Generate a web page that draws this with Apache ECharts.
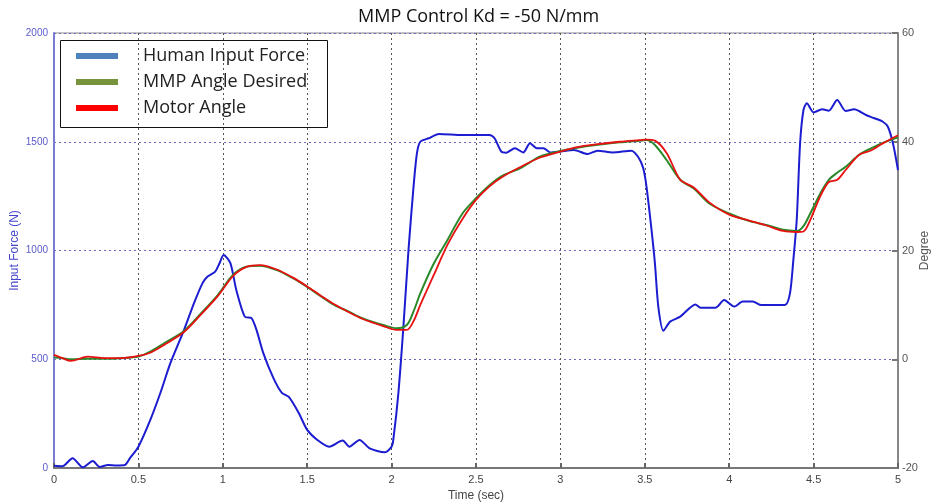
<!DOCTYPE html>
<html>
<head>
<meta charset="utf-8">
<script src="https://cdn.jsdelivr.net/npm/echarts@6/dist/echarts.min.js"></script>
<style>html,body{margin:0;padding:0;background:#fff}#c{width:932px;height:504px}</style>
</head>
<body>
<div id="c"></div>
<script>
// Human input force (N) vs time (sec)
const forceTime = [0,0.05,0.11,0.17,0.23,0.27,0.32,0.37,0.42,0.45,0.50,0.57,0.63,0.69,0.77,0.83,0.88,0.91,0.955,0.98,1.005,1.045,1.08,1.13,1.17,1.20,1.24,1.30,1.35,1.39,1.45,1.50,1.56,1.63,1.71,1.75,1.81,1.87,1.96,2.00,2.01,2.04,2.07,2.10,2.13,2.15,2.17,2.22,2.28,2.42,2.58,2.61,2.65,2.68,2.73,2.78,2.82,2.86,2.90,2.94,3.00,3.08,3.16,3.22,3.31,3.42,3.46,3.49,3.51,3.54,3.56,3.58,3.61,3.65,3.71,3.80,3.83,3.92,3.97,4.03,4.08,4.14,4.19,4.33,4.36,4.38,4.40,4.42,4.44,4.46,4.50,4.55,4.59,4.64,4.69,4.74,4.81,4.86,4.91,4.94,4.97,5.00];
const forceValues = [10,8,45,3,32,5,14,12,14,45,98,220,345,483,634,759,850,880,903,940,979,942,818,696,689,634,528,413,345,328,253,175,129,98,126,98,129,90,72,98,129,343,650,1002,1294,1447,1500,1516,1536,1531,1531,1516,1455,1450,1470,1451,1493,1470,1470,1451,1455,1462,1444,1459,1451,1459,1431,1380,1294,1094,941,742,631,673,696,752,737,737,772,742,765,765,749,749,803,956,1140,1493,1646,1677,1635,1649,1643,1692,1641,1649,1623,1608,1592,1569,1493,1370];

// Angles (degree) vs time (sec)
const angleTime = [0,0.05,0.1,0.2,0.3,0.4,0.5,0.57,0.65,0.77,0.87,0.97,1.06,1.14,1.22,1.32,1.41,1.50,1.58,1.66,1.75,1.83,1.95,2.03,2.09,2.13,2.17,2.25,2.33,2.42,2.50,2.58,2.66,2.76,2.88,3.00,3.10,3.21,3.35,3.47,3.51,3.56,3.63,3.71,3.79,3.88,4.00,4.12,4.22,4.32,4.40,4.44,4.48,4.54,4.59,4.64,4.69,4.77,4.84,4.91,5.00];
const desiredAngle = [0.3,0.2,0.0,0.1,0.1,0.2,0.5,1.4,2.9,5.2,8.4,11.8,15.5,17.0,17.2,16.4,15.0,13.3,11.6,10.0,8.7,7.5,6.3,5.7,6.3,8.8,12.1,17.6,21.9,26.8,29.6,32.0,33.8,35.1,37.3,38.3,38.9,39.4,39.9,40.2,40.3,39.4,36.6,33.0,31.4,28.7,26.8,25.4,24.7,23.8,23.6,24.5,26.8,30.5,33.0,34.3,35.4,37.6,38.8,39.8,40.8];
const motorAngle = [0.8,0.2,-0.3,0.5,0.2,0.2,0.6,1.2,2.6,5.0,8.2,11.6,15.3,17.0,17.3,16.5,15.1,13.4,11.7,10.1,8.6,7.4,6.1,5.4,5.4,7.0,10.0,15.5,21.0,25.8,29.3,31.8,33.6,35.3,37.1,38.2,39.0,39.5,40.0,40.3,40.4,40.2,37.9,33.0,31.6,28.9,26.6,25.5,24.6,23.6,23.4,23.5,25.6,30.0,32.6,33.0,34.8,37.6,38.4,39.7,41.2];

const seriesNames = ['Human Input Force','MMP Angle Desired','Motor Angle'];
const xTicks = [0,0.5,1,1.5,2,2.5,3,3.5,4,4.5,5];

const pair = (xs, ys) => xs.map((x, i) => [x, ys[i]]);
const font = 'Liberation Sans, Arial, sans-serif';

const chart = echarts.init(document.getElementById('c'));
chart.setOption({
  backgroundColor: '#fff',
  animation: false,
  title: {
    text: 'MMP Control Kd = -50 N/mm',
    left: 353, top: 3,
    textStyle: { fontFamily: 'Open Sans, sans-serif', fontSize: 18, fontWeight: 'normal', color: '#111' }
  },
  grid: { left: 54, right: 34, top: 33, bottom: 36, containLabel: false, outerBoundsMode: 'none',
    show: true, borderColor: '#888', borderWidth: 1, backgroundColor: '#fff' },
  legend: {
    orient: 'vertical', left: 71, top: 42,
    icon: 'rect', itemWidth: 42, itemHeight: 6, itemGap: 8,
    textStyle: { fontFamily: 'Open Sans, sans-serif', fontSize: 18, color: '#222', padding: [0, 0, 0, 20] },
    data: [
      { name: seriesNames[0], itemStyle: { color: '#4f81bd' } },
      { name: seriesNames[1], itemStyle: { color: '#77933c' } },
      { name: seriesNames[2], itemStyle: { color: '#ff0000' } }
    ]
  },
  graphic: [{
    type: 'rect', left: 58, top: 38, z: 100,
    shape: { width: 267, height: 87 },
    style: { fill: null, stroke: '#111', lineWidth: 1 }
  }],
  xAxis: {
    type: 'value', min: 0, max: 5, interval: 0.5,
    name: 'Time (sec)', nameLocation: 'middle', nameGap: 22, nameMoveOverlap: false,
    nameTextStyle: { fontFamily: font, fontSize: 12, color: '#444' },
    axisLine: { lineStyle: { color: '#777', width: 2 } },
    axisTick: { inside: true, length: 5, lineStyle: { color: '#666', width: 2 } },
    axisLabel: { fontFamily: font, fontSize: 11, color: '#444', margin: 6,
      formatter: v => xTicks.indexOf(v) >= 0 ? String(v) : '' },
    splitLine: { show: true, lineStyle: { color: '#555', type: [2, 3], width: 1 } }
  },
  yAxis: [{
    type: 'value', min: 0, max: 2000, interval: 500, position: 'left',
    name: 'Input Force (N)', nameLocation: 'middle', nameGap: 33, nameRotate: 90, nameMoveOverlap: false,
    nameTextStyle: { fontFamily: font, fontSize: 12, color: '#4545cc' },
    axisLine: { show: true, lineStyle: { color: '#7a7ad0', width: 2 } },
    axisTick: { show: false },
    axisLabel: { fontFamily: font, fontSize: 10, color: '#5a5acc', margin: 6, formatter: v => String(v) },
    splitLine: { show: true, lineStyle: { color: '#6a6abf', type: [2, 3], width: 1 } }
  }, {
    type: 'value', min: -20, max: 60, interval: 20, position: 'right',
    name: 'Degree', nameLocation: 'middle', nameGap: 21, nameRotate: 90, nameMoveOverlap: false,
    nameTextStyle: { fontFamily: font, fontSize: 12, color: '#555' },
    axisLine: { show: true, lineStyle: { color: '#888', width: 2 } },
    axisTick: { show: true, inside: true, length: 6, lineStyle: { color: '#777', width: 2 } },
    axisLabel: { fontFamily: font, fontSize: 11, color: '#555', margin: 4, formatter: v => String(v) },
    splitLine: { show: false }
  }],
  series: [{
    name: seriesNames[0], type: 'line', yAxisIndex: 0, showSymbol: false, smooth: 0.25,
    data: pair(forceTime, forceValues),
    lineStyle: { color: '#1c1cd0', width: 2 }, itemStyle: { color: '#1c1cd0' }
  }, {
    name: seriesNames[1], type: 'line', yAxisIndex: 1, showSymbol: false, smooth: 0.3,
    data: pair(angleTime, desiredAngle),
    lineStyle: { color: '#2a8a2a', width: 2 }, itemStyle: { color: '#2a8a2a' }
  }, {
    name: seriesNames[2], type: 'line', yAxisIndex: 1, showSymbol: false, smooth: 0.3,
    data: pair(angleTime, motorAngle),
    lineStyle: { color: '#e81010', width: 1.8 }, itemStyle: { color: '#e81010' }
  }]
});
</script>
</body>
</html>
